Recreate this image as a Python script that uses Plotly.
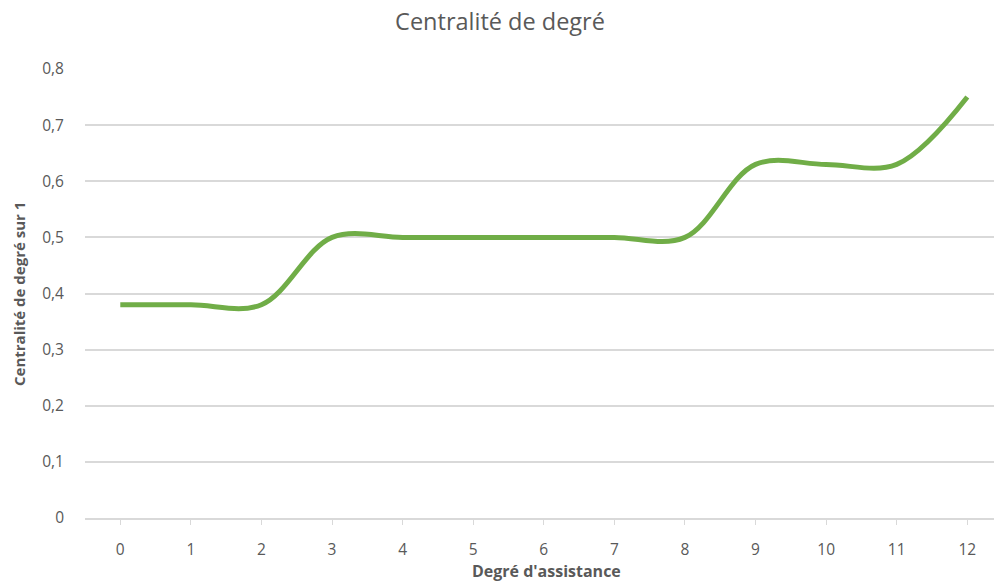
import plotly.graph_objects as go

# Degree of assistance (categories) and degree centrality (normalised to 1)
degres = [0, 1, 2, 3, 4, 5, 6, 7, 8, 9, 10, 11, 12]
centralite = [0.38, 0.38, 0.38, 0.50, 0.50, 0.50, 0.50, 0.50, 0.50, 0.63, 0.63, 0.63, 0.75]
y_ticks = [0, 0.1, 0.2, 0.3, 0.4, 0.5, 0.6, 0.7, 0.8]

W, H = 994, 583
ML, MR, MT, MB = 85, 0, 69, 65
FONT = "Open Sans"
GREY = "#595959"
GRID = "#D9D9D9"

fig = go.Figure()
fig.add_trace(go.Scatter(
    x=degres, y=centralite, mode="lines",
    line=dict(color="#70AD47", width=5, shape="spline", smoothing=1),
    hoverinfo="x+y",
))

fig.update_layout(
    width=W, height=H,
    margin=dict(l=ML, r=MR, t=MT, b=MB),
    paper_bgcolor="white", plot_bgcolor="white",
    separators=", ",
    showlegend=False,
    font=dict(family=FONT, color=GREY),
    title=dict(text="Centralité de degré", x=500 / W, xanchor="center",
               y=1 - 22 / H, yanchor="middle",
               font=dict(family=FONT, size=23.5, color=GREY)),
)

fig.update_xaxes(
    range=[-0.5, 12 + (W - MR - 967.3) / 70.6],
    tickmode="array", tickvals=degres, ticktext=[str(d) for d in degres],
    showgrid=False, zeroline=False,
    showline=True, linecolor=GRID, linewidth=1.5,
    ticks="outside", ticklen=5, tickcolor=GRID, tickwidth=1,
    ticklabelstandoff=12,
    tickfont=dict(family=FONT, size=15.5, color=GREY),
)
fig.update_yaxes(
    range=[0, 0.8],
    tickmode="array", tickvals=y_ticks,
    showgrid=True, gridcolor=GRID, gridwidth=1.5,
    zeroline=False, showline=False,
    ticks="", ticklabelstandoff=20,
    tickfont=dict(family=FONT, size=15.5, color=GREY),
)

plot_w = W - ML - MR
plot_h = H - MT - MB
fig.add_annotation(
    text="<b>Degré d'assistance</b>", xref="paper", yref="paper",
    x=(546 - ML) / plot_w, y=-(571 - (H - MB)) / plot_h,
    xanchor="center", yanchor="middle", showarrow=False,
    font=dict(family=FONT, size=16, color=GREY),
)
fig.add_annotation(
    text="<b>Centralité de degré sur 1</b>", xref="paper", yref="paper",
    x=-(ML - 19) / plot_w, y=1 - (294 - MT) / plot_h,
    xanchor="center", yanchor="middle", textangle=-90, showarrow=False,
    font=dict(family=FONT, size=15, color=GREY),
)

fig.write_html("out.html")
